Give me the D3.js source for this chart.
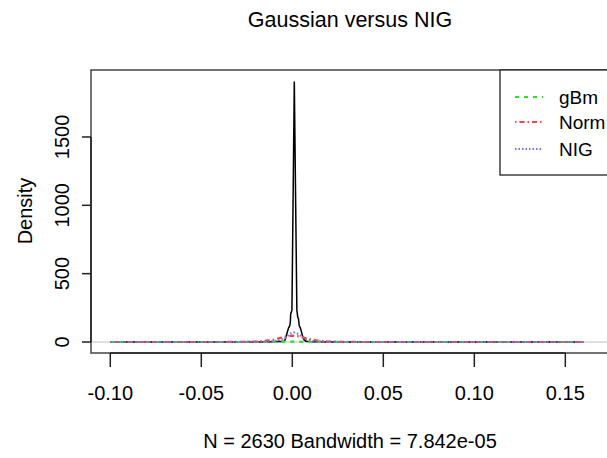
<!DOCTYPE html>
<html><head><meta charset="utf-8">
<script src="https://cdn.jsdelivr.net/npm/d3@7"></script>
<style>body{margin:0;background:#fff}svg{display:block}text{font-family:"Liberation Sans",Arial,sans-serif;fill:#000}</style>
</head><body><svg id="c" width="607" height="458"></svg>
<script>
// Empirical density (black)
const empX = [-0.1,-0.05,-0.02,-0.012,-0.008,-0.006,-0.0045,-0.004,-0.003,-0.002,-0.0015,-0.0011,-0.0009,-0.0006,-0.0002,0.0011,0.0025,0.003,0.0034,0.0038,0.0045,0.0055,0.0065,0.0075,0.009,0.012,0.02,0.05,0.1,0.16];
const empY = [0,0,0,1,3,4,6,15,60,105,115,140,205,215,235,1905,235,180,170,120,100,50,15,6,3,1,0,0,0,0];
// gBm (green)
const gbmX = [-0.1,-0.03,-0.015,-0.008,-0.004,0,0.004,0.008,0.015,0.03,0.16];
const gbmY = [0,0,0.5,1,2,2.5,2,1,0.5,0,0];
// Norm (red)
const normX = [-0.1,-0.04,-0.03,-0.02,-0.015,-0.01,-0.006,-0.003,0,0.003,0.006,0.01,0.015,0.02,0.03,0.04,0.16];
const normY = [0,0,0.5,3,8,18,32,42,46,43,33,19,8,3,0.5,0,0];
// NIG (blue)
const nigX = [-0.1,-0.03,-0.02,-0.012,-0.008,-0.005,-0.003,-0.001,0.001,0.003,0.005,0.008,0.012,0.02,0.03,0.16];
const nigY = [0,0,1,4,10,22,40,62,70,60,40,18,6,1,0,0];
const xTicks = [-0.10,-0.05,0.00,0.05,0.10,0.15];
const xTickLabels = ["-0.10","-0.05","0.00","0.05","0.10","0.15"];
const yTicks = [0,500,1000,1500];
const legendLabels = ["gBm","Norm","NIG"];
const colors = ["#2de02d","#f04848","#7373f0"];
const dashes = ["4,5","1.5,3,5,3","1.5,2"];

const svg = d3.select("#c");
const L=91,R=607,T=70,B=353;
const x = d3.scaleLinear().domain([-0.1106,0.1729]).range([L,R]);
const y = d3.scaleLinear().domain([-80.5,1990]).range([B,T]);

svg.append("text").attr("x",350).attr("y",27).attr("text-anchor","middle")
  .style("font-size","21.5px").text("Gaussian versus NIG");

// zero line
svg.append("line").attr("x1",L).attr("x2",R+10).attr("y1",y(0)).attr("y2",y(0))
  .attr("stroke","#c0c0c0").attr("stroke-width",1.2);

const line = d3.line().x(d=>x(d[0])).y(d=>y(d[1]));
svg.append("path").datum(empX.map((v,i)=>[v,empY[i]])).attr("d",line)
  .attr("fill","none").attr("stroke","#000").attr("stroke-width",1.5);
const series=[[gbmX,gbmY],[normX,normY],[nigX,nigY]];
series.forEach((s,k)=>{
  svg.append("path").datum(s[0].map((v,i)=>[v,s[1][i]])).attr("d",line)
    .attr("fill","none").attr("stroke",colors[k]).attr("stroke-width",2.2)
    .attr("stroke-dasharray",dashes[k]);
});

// box
svg.append("rect").attr("x",L).attr("y",T).attr("width",R+10-L).attr("height",B-T)
  .attr("fill","none").attr("stroke","#444").attr("stroke-width",1.5);

// x axis
const xa = svg.append("g");
xa.append("line").attr("x1",x(-0.1)).attr("x2",x(0.15)).attr("y1",B).attr("y2",B).attr("stroke","#222").attr("stroke-width",1.5);
xTicks.forEach((t,i)=>{
  xa.append("line").attr("x1",x(t)).attr("x2",x(t)).attr("y1",B).attr("y2",B+14).attr("stroke","#222").attr("stroke-width",1.5);
  xa.append("text").attr("x",x(t)).attr("y",400).attr("text-anchor","middle").style("font-size","20px").text(xTickLabels[i]);
});
// y axis
const ya = svg.append("g");
ya.append("line").attr("x1",L).attr("x2",L).attr("y1",y(0)).attr("y2",y(1500)).attr("stroke","#222").attr("stroke-width",1.5);
yTicks.forEach(t=>{
  ya.append("line").attr("x1",L-9).attr("x2",L).attr("y1",y(t)).attr("y2",y(t)).attr("stroke","#222").attr("stroke-width",1.5);
  ya.append("text").attr("transform",`translate(69,${y(t)}) rotate(-90)`).attr("text-anchor","middle").style("font-size","20px").text(t);
});
svg.append("text").attr("transform","translate(32,211) rotate(-90)").attr("text-anchor","middle").style("font-size","20px").text("Density");
svg.append("text").attr("x",350).attr("y",448).attr("text-anchor","middle").style("font-size","20px").text("N = 2630 Bandwidth = 7.842e-05");

// legend
const lg = svg.append("g");
lg.append("rect").attr("x",500).attr("y",T).attr("width",130).attr("height",105).attr("fill","#fff").attr("stroke","#222").attr("stroke-width",1.3);
legendLabels.forEach((lab,k)=>{
  const ly=[97,122,149][k];
  lg.append("line").attr("x1",515).attr("x2",543).attr("y1",ly).attr("y2",ly).attr("stroke",colors[k]).attr("stroke-width",2).attr("stroke-dasharray",dashes[k]);
  lg.append("text").attr("x",559).attr("y",ly+7).style("font-size","19px").text(lab);
});
</script></body></html>
